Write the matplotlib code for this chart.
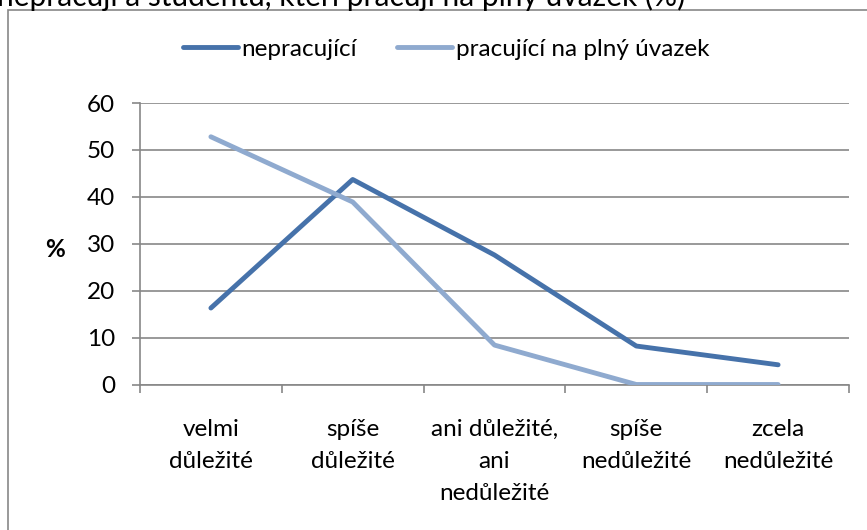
import matplotlib
matplotlib.use("Agg")
import matplotlib.pyplot as plt
import matplotlib.patches as mpatches
import numpy as np

plt.rcParams['font.family'] = ['Lato', 'DejaVu Sans']

categories = ["velmi\ndůležité", "spíše\ndůležité", "ani důležité,\nani\nnedůležité",
              "spíše\nnedůležité", "zcela\nnedůležité"]
nepracujici = [16.3, 43.7, 27.6, 8.2, 4.2]
pracujici_plny = [52.8, 38.9, 8.4, 0.0, 0.0]
series_names = ["nepracující", "pracující na plný úvazek"]
title_text = "nepracují a studentů, kteří pracují na plný úvazek (%)"

dark_blue = "#4672AA"
light_blue = "#8FAACF"
grid_grey = "#878787"
fs = 17.5

W, H = 867, 530
fig = plt.figure(figsize=(W / 100, H / 100), dpi=100)

# chart area border (cut off on the right and bottom like the screenshot)
fig.patches.append(mpatches.Rectangle((8 / W, -0.1), 1.2, 1 - 10 / H + 0.1,
                                      transform=fig.transFigure, fill=False,
                                      edgecolor=grid_grey, linewidth=1.2))

# title, mostly above the visible area
fig.text(685 / W, 1 - 6 / H, title_text, fontsize=21.5, ha='right', va='baseline')

ax = fig.add_axes([140 / W, 1 - 384.5 / H, 709 / W, 281.5 / H])
x = np.arange(len(categories))
ax.plot(x, nepracujici, color=dark_blue, linewidth=3.5, solid_capstyle='round',
        solid_joinstyle='round', label=series_names[0], zorder=3)
ax.plot(x, pracujici_plny, color=light_blue, linewidth=3.5, solid_capstyle='round',
        solid_joinstyle='round', label=series_names[1], zorder=3)

ax.set_xlim(-0.5, len(categories) - 0.5)
ax.set_ylim(0, 60)
ax.set_yticks(np.arange(0, 61, 10))
ax.grid(axis='y', color=grid_grey, linewidth=1.2)
ax.set_axisbelow(True)

ax.set_xticks(np.arange(-0.5, len(categories), 1.0))
ax.set_xticklabels([])
ax.set_xticks(x, minor=True)
ax.set_xticklabels(categories, minor=True, fontsize=fs, linespacing=1.65, va='top')
ax.tick_params(axis='x', which='minor', length=0, pad=25)
ax.tick_params(axis='x', which='major', length=6, width=1.2, color=grid_grey, direction='out')
ax.tick_params(axis='y', length=6, width=1.2, color=grid_grey, pad=12, labelsize=fs)

for side in ['top', 'right']:
    ax.spines[side].set_visible(False)
for side in ['left', 'bottom']:
    ax.spines[side].set_color(grid_grey)
    ax.spines[side].set_linewidth(1.2)

ax.set_ylabel("%", rotation=0, fontsize=fs, fontweight='bold', va='center', ha='center')
ax.yaxis.set_label_coords((55 - 140) / 709, 0.48)

fig.legend(handles=ax.get_lines(), labels=series_names, loc='center',
           bbox_to_anchor=(446 / W, 1 - 49 / H), ncol=2, frameon=False,
           fontsize=fs, handlelength=2.26, handletextpad=0.16, columnspacing=1.65)

fig.savefig("out.png", dpi=100)
